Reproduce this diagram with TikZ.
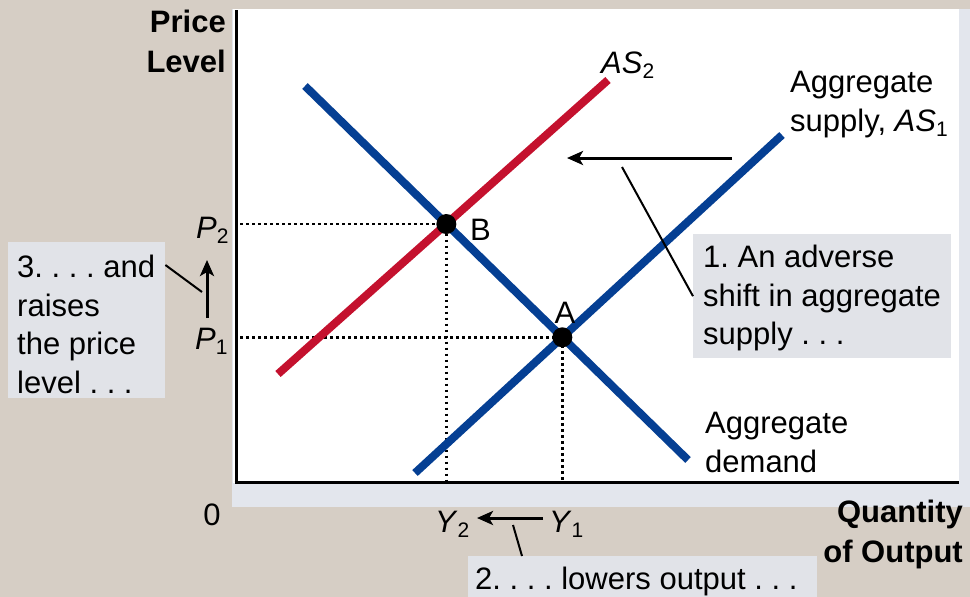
\documentclass[tikz,border=0pt]{standalone}
\usepackage{fontspec}
\setmainfont{Liberation Sans}
\usetikzlibrary{arrows.meta,intersections,calc}
\definecolor{bgc}{HTML}{D6CEC5}
\definecolor{bandc}{HTML}{E3E6ED}
\definecolor{boxc}{HTML}{E1E3E8}
\definecolor{adblue}{HTML}{053F93}
\definecolor{asred}{HTML}{C4112E}
\newcommand\subsc[1]{\raisebox{-5pt}{\fontsize{21}{21}\selectfont #1}}
\frenchspacing
\tikzset{
  txt/.style={inner sep=0pt, font=\fontsize{31}{38.5}\selectfont, align=left},
  bold/.style={inner sep=0pt, font=\fontsize{31}{39.5}\selectfont\bfseries, align=right},
  curve/.style={line width=8pt},
  axisline/.style={line width=3pt},
  dotline/.style={line width=2.8pt, dash pattern=on 2.8pt off 3.2pt},
  eqdot/.style={circle, fill=black, minimum size=20pt, inner sep=0pt},
  boxbg/.style={fill=boxc, inner sep=0pt, anchor=north west},
  conn/.style={line width=2pt},
  arr/.style={line width=3pt, -{Stealth[length=16pt,width=14pt,inset=4pt]}},
}
\begin{document}
\begin{tikzpicture}[x=1pt,y=-1pt]
\useasboundingbox (0,0) rectangle (970,597);
\fill[bgc] (0,0) rectangle (970,597);
\fill[bandc] (232,9) rectangle (970,507);
\fill[white] (233,9) rectangle (959,483);

% coordinates
\coordinate (O) at (236,482.5);
\coordinate (yax) at (240,0);
\coordinate (ad1) at (305,86);
\coordinate (ad2) at (688,460);
\coordinate (as1a) at (415,473);
\coordinate (as1b) at (782,135);
\coordinate (as2a) at (278,374);
\coordinate (as2b) at (608,80);
\path[name path=AD] (ad1) -- (ad2);
\path[name path=ASone] (as1a) -- (as1b);
\path[name path=AStwo] (as2a) -- (as2b);
\path[name intersections={of=AD and ASone, by=iA}];
\path[name intersections={of=AD and AStwo, by=iB}];

% dotted guides
\draw[dotline] (yax |- iB) -- (iB) -- (iB |- O);
\draw[dotline] (yax |- iA) -- (iA) -- (iA |- O);

% axes
\draw[axisline] (236,10) -- (236,484);
\draw[axisline] (234.5,482.5) -- (959,482.5);

% curves
\draw[curve, adblue] (ad1) -- (ad2);
\draw[curve, asred] (as2a) -- (as2b);
\draw[curve, adblue] (as1a) -- (as1b);

% equilibrium dots
\node[eqdot] (A) at (iA) {};
\node[eqdot] (B) at (iB) {};
\node[txt, anchor=base west] (Blbl) at (470,240) {B};
\node[txt, anchor=base] (Albl) at (565,323) {A};

% axis labels
\node[bold, anchor=north east] (ylab) at (226,10) {Price\\Level};
\node[bold, anchor=north east] (xlab) at (963,500) {Quantity\\of Output};
\node[txt, anchor=base] (zero) at (212,525) {0};
\node[txt, anchor=base west] (P2) at (196,238) {\textit{P}\subsc{2}};
\node[txt, anchor=base west] (P1) at (195,349) {\textit{P}\subsc{1}};
\node[txt, anchor=base west] (Y2) at (435,532) {\textit{Y}\subsc{2}};
\node[txt, anchor=base west] (Y1) at (549,532) {\textit{Y}\subsc{1}};

% curve labels
\node[txt, anchor=base west] (AS2lbl) at (601,73) {\textit{AS}\subsc{2}};
\node[txt, anchor=north west] (AS1lbl) at (790,71) {Aggregate\\supply, \textit{AS}\subsc{1}};
\node[txt, anchor=north west] (ADlbl) at (705,412) {Aggregate\\demand};

% boxes
\node[boxbg, minimum width=258pt, minimum height=124pt] (box1) at (693,234) {};
\node[txt, anchor=north west] (t1) at (703,245) {1. An adverse\\shift in aggregate\\supply . . .};
\node[boxbg, minimum width=157pt, minimum height=156pt] (box3) at (8,242) {};
\node[txt, anchor=north west] (t3) at (17,255) {3. . . . and\\raises\\the price\\level . . .};
\node[boxbg, minimum width=349pt, minimum height=42pt] (box2) at (468,556) {};
\node[txt, anchor=north west] (t2) at (475,567) {2. . . . lowers output . . .};

% arrows
\coordinate (sh1) at (732,158);
\coordinate (sh2) at (567,158);
\draw[arr] (sh1) -- (sh2);
\coordinate (pu1) at (207,318);
\coordinate (pu2) at (207,260);
\draw[arr] (pu1) -- (pu2);
\coordinate (yl1) at (543,518);
\coordinate (yl2) at (477,518);
\draw[arr] (yl1) -- (yl2);

% connectors
\coordinate (c1) at (622,167);
\draw[conn] (c1) -- (box1.west);
\coordinate (c3) at (202,292);
\draw[conn] ($(box3.north east)+(0,23)$) -- (c3);
\coordinate (c2) at (513,525);
\draw[conn] (c2) -- ($(box2.north west)+(54,0)$);
\end{tikzpicture}
\end{document}
